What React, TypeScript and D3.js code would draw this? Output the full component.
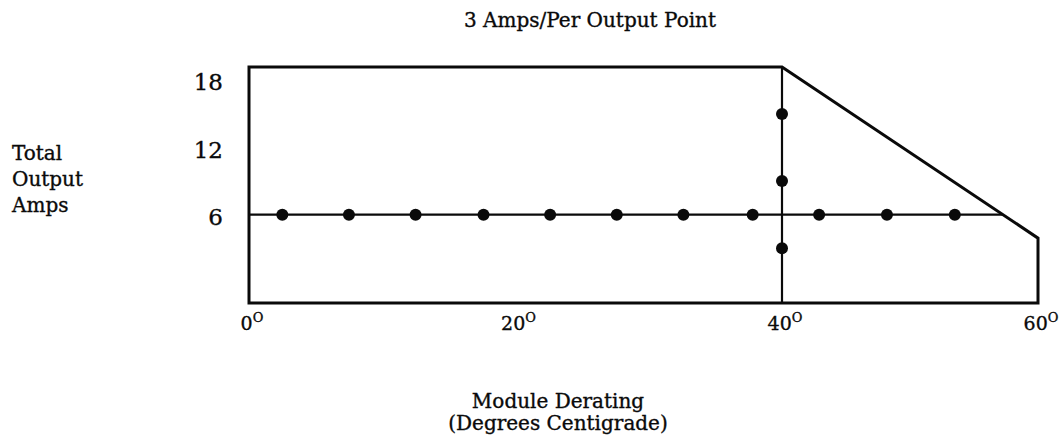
import { useEffect, useRef } from "react";
import * as d3 from "d3";

// Temperatures (deg C) and amps
const X_TICKS = [0, 20, 40, 60];
const Y_TICKS = [6, 12, 18];
const ROW_AMPS = 6;
const ROW_TEMPS = [2.5, 7.5, 12.5, 17.6, 22.6, 27.6, 32.6, 37.8, 42.9, 48.2, 53.5];
const COLUMN_TEMP = 40;
const COLUMN_AMPS = [15, 9, 3];
// derating envelope: full rating to 40 deg, then sloping down to 60 deg
const ENVELOPE_TEMPS = [0, 0, 40, 60, 60];
const ENVELOPE_AMPS = [-1.9, 19.2, 19.2, 3.9, -1.9];

const WIDTH = 1063;
const HEIGHT = 445;
const FONT = "DejaVu Serif, serif";
const INK = "#0a0a0a";

export default function App() {
  const svgRef = useRef<SVGSVGElement>(null);

  useEffect(() => {
    if (!svgRef.current) return;
    const svg = d3.select(svgRef.current);
    svg.selectAll("*").remove();

    const x = d3.scaleLinear().domain([0, 40, 60]).range([249, 782, 1038]);
    const y = d3.scaleLinear().domain([-1.9, 19.2]).range([303, 67]);

    svg.append("rect").attr("width", WIDTH).attr("height", HEIGHT).attr("fill", "#fff");

    // all text a touch heavier, like the printed original
    const label = (sx: number, sy: number, size: number) =>
      svg.append("text")
        .attr("x", sx).attr("y", sy)
        .attr("font-family", FONT).attr("font-size", size)
        .attr("fill", INK).attr("stroke", INK).attr("stroke-width", 0.35);

    // Title
    label(590, 27, 20).attr("text-anchor", "middle").text("3 Amps/Per Output Point");

    // Y label, three lines
    ["Total", "Output", "Amps"].forEach((line, i) => {
      label(12, 160 + i * 26, 20).text(line);
    });

    // X label
    ["Module Derating", "(Degrees Centigrade)"].forEach((line, i) => {
      label(558, 408 + i * 22, 20).attr("text-anchor", "middle").text(line);
    });

    // Y tick labels
    Y_TICKS.forEach((v) => {
      label(223, y(v) + 10, 23).attr("text-anchor", "end").text(v);
    });

    // X tick labels with degree-style superscript O
    X_TICKS.forEach((v) => {
      const t = label(x(v) + 3, 330, 19).attr("text-anchor", "middle");
      t.append("tspan").text(v);
      t.append("tspan").attr("font-size", 13).attr("dy", -8).text("O");
    });

    // Envelope frame
    const frame = d3.line<number>()
      .x((i) => x(ENVELOPE_TEMPS[i]))
      .y((i) => y(ENVELOPE_AMPS[i]));
    svg.append("path")
      .attr("d", frame(d3.range(ENVELOPE_TEMPS.length)) + "Z")
      .attr("fill", "none")
      .attr("stroke", INK)
      .attr("stroke-width", 3)
      .attr("stroke-linejoin", "miter");

    // Where the 6 A row meets the sloping edge
    const t0 = ENVELOPE_TEMPS[2], a0 = ENVELOPE_AMPS[2];
    const t1 = ENVELOPE_TEMPS[3], a1 = ENVELOPE_AMPS[3];
    const rowEnd = t0 + ((a0 - ROW_AMPS) / (a0 - a1)) * (t1 - t0);

    svg.append("line")
      .attr("x1", x(0)).attr("x2", x(rowEnd))
      .attr("y1", y(ROW_AMPS)).attr("y2", y(ROW_AMPS))
      .attr("stroke", INK).attr("stroke-width", 2.2);

    svg.append("line")
      .attr("x1", x(COLUMN_TEMP)).attr("x2", x(COLUMN_TEMP))
      .attr("y1", y(ENVELOPE_AMPS[0])).attr("y2", y(ENVELOPE_AMPS[1]))
      .attr("stroke", INK).attr("stroke-width", 2.2);

    // Output points
    ROW_TEMPS.forEach((t) => {
      svg.append("circle")
        .attr("cx", x(t)).attr("cy", y(ROW_AMPS))
        .attr("r", 6).attr("fill", INK);
    });
    COLUMN_AMPS.forEach((a) => {
      svg.append("circle")
        .attr("cx", x(COLUMN_TEMP)).attr("cy", y(a))
        .attr("r", 6).attr("fill", INK);
    });
  }, []);

  return (
    <svg
      ref={svgRef}
      width={WIDTH}
      height={HEIGHT}
      style={{ position: "absolute", left: 0, top: 0 }}
    />
  );
}
